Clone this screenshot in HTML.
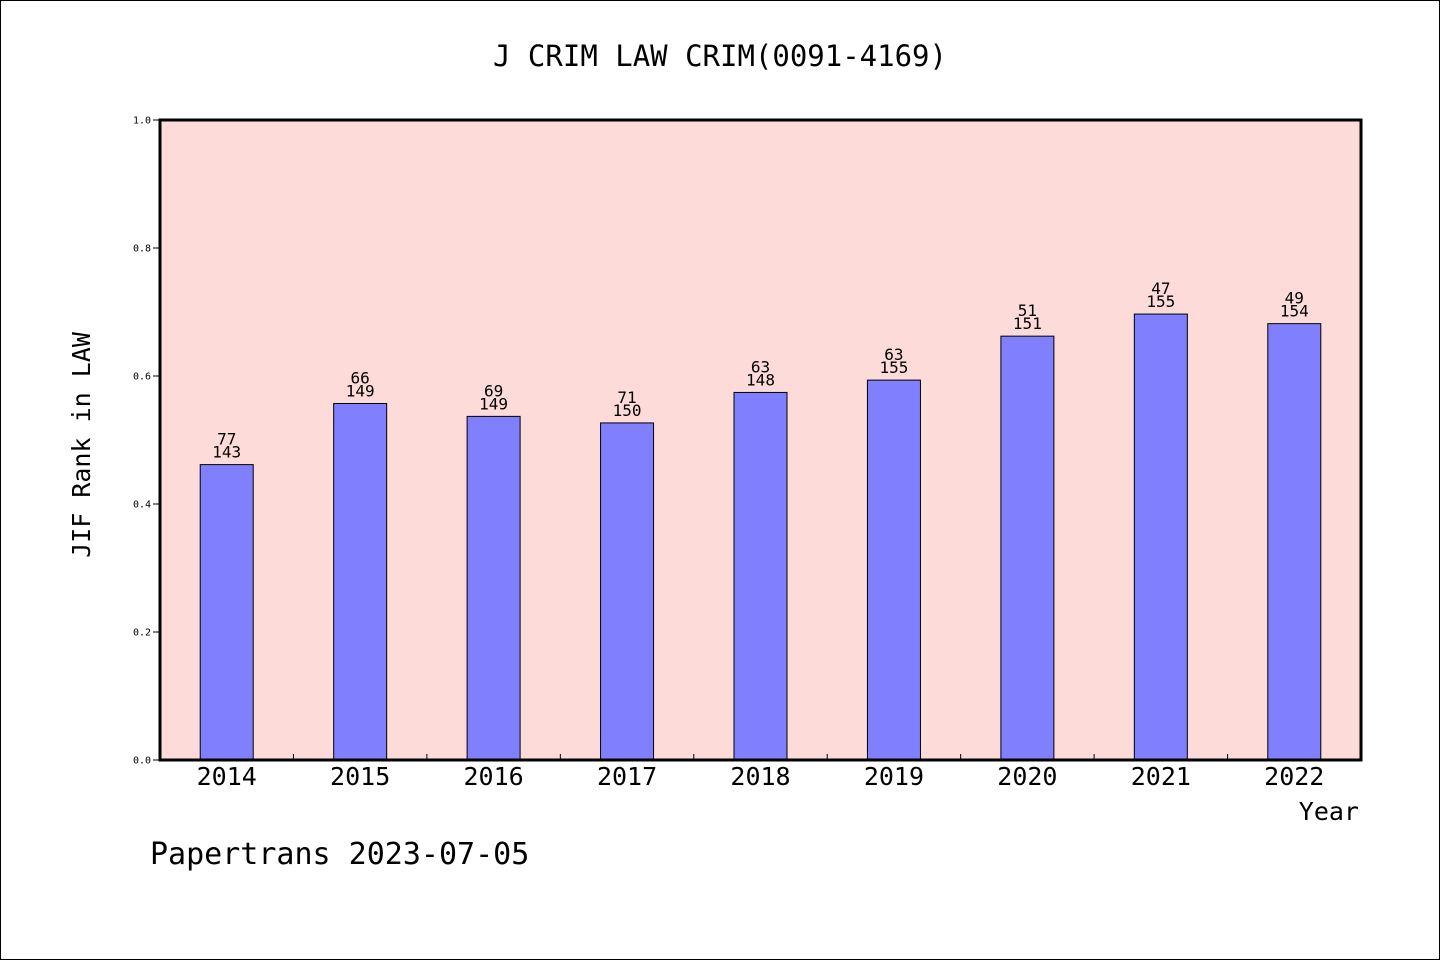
<!DOCTYPE html>
<html><head><meta charset="utf-8"><style>
html,body{margin:0;padding:0;background:#fff}
svg{display:block}
text{font-family:"DejaVu Sans Mono","Liberation Mono",monospace;fill:#000}
</style></head><body>
<svg id="chart" width="1440" height="960" xmlns="http://www.w3.org/2000/svg">
<rect x="0.5" y="0.5" width="1439" height="959" fill="#fff" stroke="#000"/>
<text x="720" y="66" font-size="29" text-anchor="middle">J CRIM LAW CRIM(0091-4169)</text>
<rect x="160" y="120" width="1201" height="640" fill="#fddbd8"/>
<g id="bars"></g>
<g id="axes"></g>
<rect x="160" y="120" width="1201" height="640" fill="none" stroke="#000" stroke-width="3"/>
<text transform="translate(90,445) rotate(-90)" font-size="25" text-anchor="middle">JIF Rank in LAW</text>
<text x="1359" y="820" font-size="25" text-anchor="end">Year</text>
<text x="150" y="864" font-size="30">Papertrans 2023-07-05</text>
</svg>
<script>
const years=["2014","2015","2016","2017","2018","2019","2020","2021","2022"];
const ranks=[77,66,69,71,63,63,51,47,49];
const totals=[143,149,149,150,148,155,151,155,154];
const yTicks=["0.0","0.2","0.4","0.6","0.8","1.0"];
const NS="http://www.w3.org/2000/svg";
const X0=160,W=1201,Y0=760,H=640;
const step=W/years.length;
const xc=i=>X0+step*(i+0.5);
const ys=v=>Y0-v*H;
function mk(t,a,p){const e=document.createElementNS(NS,t);for(const k in a)e.setAttribute(k,a[k]);p.appendChild(e);return e;}
const bars=document.getElementById('bars'),axes=document.getElementById('axes');
years.forEach((yr,i)=>{
  const v=(totals[i]-ranks[i])/totals[i];
  const bw=53;
  const r=mk('rect',{x:xc(i)-bw/2,y:ys(v),width:bw,height:Y0-ys(v),fill:'#8080ff',stroke:'#000','stroke-width':1},bars);
  
  
  const t1=mk('text',{x:xc(i),y:ys(v)-20,'font-size':16,'text-anchor':'middle'},bars);t1.textContent=ranks[i];
  
  
  const t2=mk('text',{x:xc(i),y:ys(v)-7,'font-size':16,'text-anchor':'middle'},bars);t2.textContent=totals[i];
  
  
  const xl=mk('text',{x:xc(i),y:785,'font-size':25,'text-anchor':'middle'},axes);xl.textContent=yr;
  
  
  if(i>0){const tk=mk('line',{x1:X0+step*i,x2:X0+step*i,y1:Y0,y2:Y0-6,stroke:'#000'},axes);
    
    }
});
yTicks.forEach(l=>{
  const y=ys(parseFloat(l));
  const tk=mk('line',{x1:153,x2:160,y1:y,y2:y,stroke:'#000'},axes);
  
  
  const t=mk('text',{x:151,y:y+3.5,'font-size':10,'text-anchor':'end'},axes);t.textContent=l;
  
  
});
</script>
</body></html>
